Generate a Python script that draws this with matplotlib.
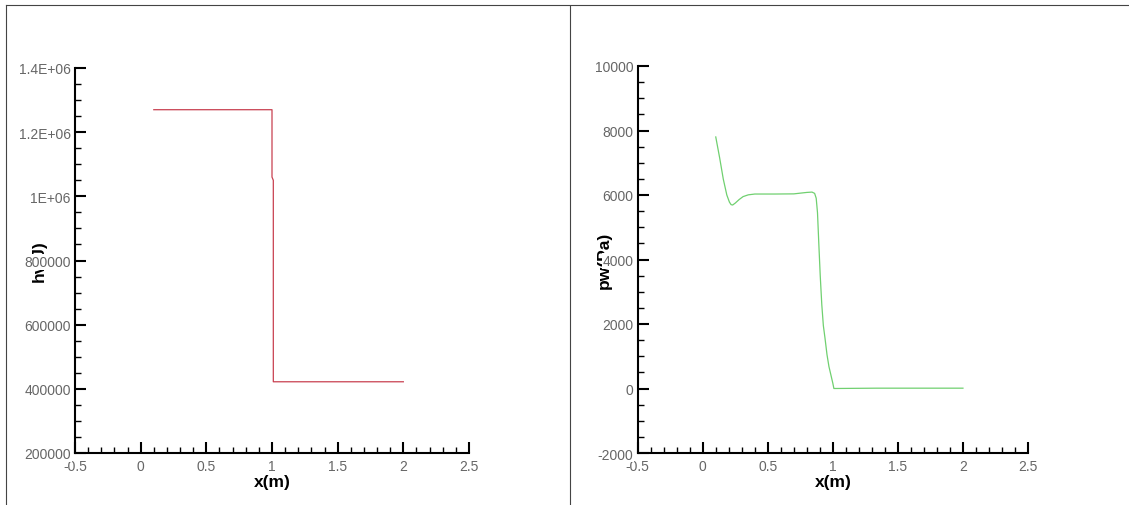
import numpy as np
import matplotlib.pyplot as plt
from matplotlib.lines import Line2D
from matplotlib.ticker import FixedLocator, FixedFormatter, MultipleLocator

plt.rcParams['font.family'] = ['Liberation Sans', 'DejaVu Sans']

# 左图: 焓 hv(J)
hv_x = [0.1, 1.0, 1.0, 1.01, 1.01, 2.0]
hv_y = [1.27e6, 1.27e6, 1.06e6, 1.05e6, 4.22e5, 4.22e5]
hv_ticks = [200000, 400000, 600000, 800000, 1000000, 1200000, 1400000]
hv_labels = ["200000", "400000", "600000", "800000", "1E+06", "1.2E+06", "1.4E+06"]

# 右图: 压力 pw(Pa)
pw_x = [0.1, 0.13, 0.158, 0.185, 0.205, 0.218, 0.23, 0.25, 0.28, 0.31, 0.35,
        0.40, 0.55, 0.70, 0.80, 0.84, 0.86, 0.872, 0.882, 0.892, 0.903,
        0.915, 0.927, 0.94, 0.955, 0.97, 0.985, 1.0, 1.008, 1.335, 2.0]
pw_y = [7800, 7150, 6490, 6000, 5780, 5700, 5690, 5750, 5860, 5950, 6005,
        6030, 6030, 6035, 6080, 6090, 6050, 5900, 5450, 4500, 3500,
        2600, 1950, 1550, 1050, 680, 420, 160, 0, 10, 10]
pw_ticks = [-2000, 0, 2000, 4000, 6000, 8000, 10000]
pw_labels = ["-2000", "0", "2000", "4000", "6000", "8000", "10000"]

x_ticks = [-0.5, 0, 0.5, 1, 1.5, 2, 2.5]
x_labels = ["-0.5", "0", "0.5", "1", "1.5", "2", "2.5"]


def style_axes(ax, yticks, ylabels, ylim, yminor, ylabel, label_xy):
    ax.set_xlim(-0.5, 2.5)
    ax.set_ylim(*ylim)
    for s in ["top", "right"]:
        ax.spines[s].set_visible(False)
    for s in ["left", "bottom"]:
        ax.spines[s].set_linewidth(1.5)
    ax.xaxis.set_major_locator(FixedLocator(x_ticks))
    ax.xaxis.set_major_formatter(FixedFormatter(x_labels))
    ax.xaxis.set_minor_locator(MultipleLocator(0.1))
    ax.yaxis.set_major_locator(FixedLocator(yticks))
    ax.yaxis.set_major_formatter(FixedFormatter(ylabels))
    ax.yaxis.set_minor_locator(MultipleLocator(yminor))
    ax.tick_params(which="both", direction="in", colors="black", labelcolor="#666666",
                   labelsize=10)
    ax.tick_params(which="major", length=8, width=1.5)
    ax.tick_params(which="minor", length=4, width=1.0)
    ax.tick_params(axis="y", pad=3)
    ax.tick_params(axis="x", pad=4)
    ax.set_xlabel("x(m)", fontsize=12.5, fontweight="bold")
    ax.xaxis.set_label_coords(0.5, -0.055)
    # y轴标题被刻度标签压住
    ax.text(label_xy[0], label_xy[1], ylabel, transform=ax.figure.transFigure,
            rotation=90, fontsize=12.5, fontweight="bold", ha="center", va="center",
            zorder=0.5, clip_on=False)
    for t in ax.get_yticklabels():
        t.set_bbox(dict(facecolor="white", edgecolor="none", pad=0.5))


fig = plt.figure(figsize=(11.29, 5.06), dpi=100)
W, H = 1129, 506

ax1 = fig.add_axes([75 / W, 1 - 454 / H, 394 / W, 385 / H])
ax1.plot(hv_x, hv_y, color="#c84050", lw=0.9)
style_axes(ax1, hv_ticks, hv_labels, (200000, 1400000), 50000, "hv(J)", (39 / W, 1 - 261 / H))

ax2 = fig.add_axes([637.7 / W, 1 - 454 / H, 390.3 / W, 387 / H])
ax2.plot(pw_x, pw_y, color="#70d070", lw=0.9)
style_axes(ax2, pw_ticks, pw_labels, (-2000, 10000), 500, "pw(Pa)", (604 / W, 1 - 260 / H))

# 两个框的边线
for xs, ys in [([6, 6], [506, 6]), ([6, 1129], [6, 6]), ([570, 570], [506, 7])]:
    fig.add_artist(Line2D([x / W for x in xs], [1 - y / H for y in ys],
                          color="#444444", lw=0.8))

fig.savefig("out.png", dpi=100)
